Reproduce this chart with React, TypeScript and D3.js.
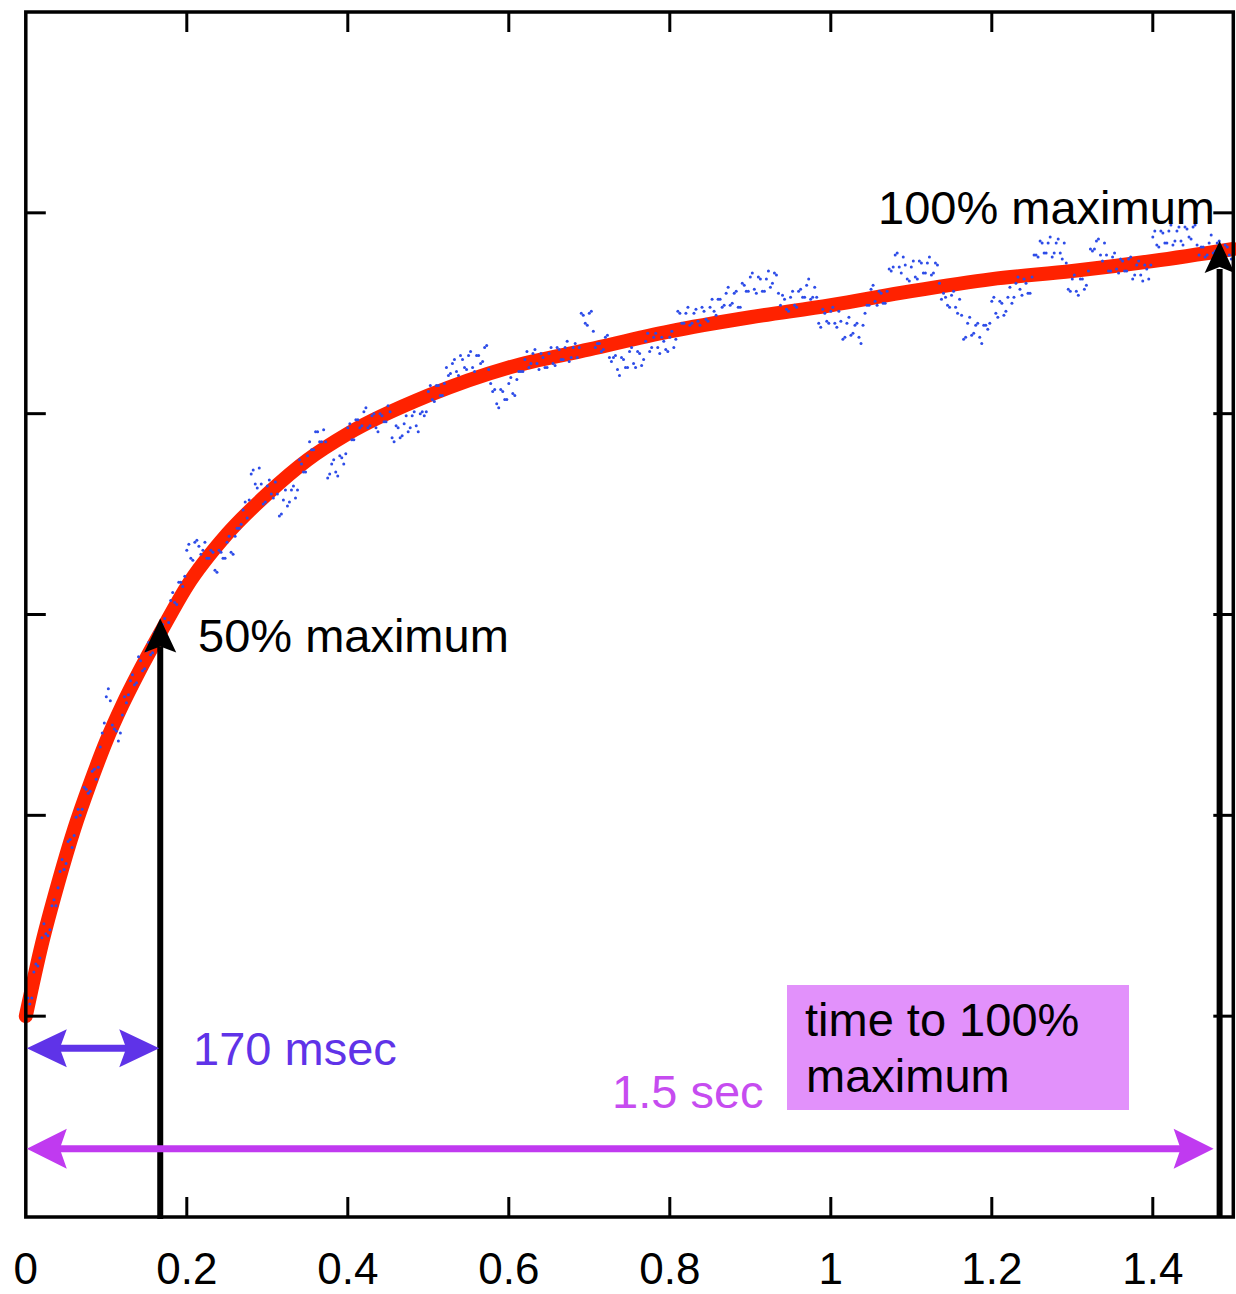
import React from 'react';
import * as d3 from 'd3';

// ---- data ----
const xTickValues = [0, 0.2, 0.4, 0.6, 0.8, 1, 1.2, 1.4];
const xTickLabels = ['0', '0.2', '0.4', '0.6', '0.8', '1', '1.2', '1.4'];
const yTickValues = [1, 2, 3, 4, 5];

// red fitted curve (time in s, response in arbitrary units)
const fitTimes = [0, 0.02, 0.04, 0.06, 0.08, 0.1, 0.12, 0.14, 0.17, 0.2, 0.25, 0.3, 0.35, 0.4, 0.5, 0.6, 0.7, 0.8, 0.9, 1.0, 1.1, 1.2, 1.3, 1.4, 1.5];
const fitValues = [1.0, 1.36, 1.66, 1.93, 2.16, 2.37, 2.55, 2.71, 2.93, 3.14, 3.40, 3.60, 3.77, 3.90, 4.09, 4.23, 4.32, 4.41, 4.48, 4.54, 4.61, 4.67, 4.71, 4.76, 4.82];

// blue raw samples, channel A: one every 5 ms from 0 to 1.5 s
const sampleStep = 0.005;
const blueValuesA = [
  1.01, 1.06, 1.22, 1.25, 1.39, 1.41, 1.43, 1.58, 1.64, 1.78,
  1.76, 1.88, 1.90, 2.03, 2.03, 2.13, 2.12, 2.23, 2.24, 2.41,
  2.59, 2.57, 2.43, 2.37, 2.50, 2.56, 2.67, 2.65, 2.79, 2.72,
  2.82, 2.80, 2.91, 2.85, 2.95, 2.89, 3.07, 3.06, 3.16, 3.14,
  3.32, 3.28, 3.36, 3.34, 3.32, 3.28, 3.32, 3.22, 3.32, 3.28,
  3.36, 3.31, 3.39, 3.43, 3.52, 3.48, 3.70, 3.65, 3.73, 3.55,
  3.64, 3.60, 3.66, 3.49, 3.57, 3.54, 3.62, 3.58, 3.77, 3.71,
  3.79, 3.82, 3.91, 3.86, 3.92, 3.68, 3.75, 3.71, 3.79, 3.75,
  3.93, 3.87, 3.97, 3.93, 4.01, 3.93, 3.99, 3.93, 4.00, 3.96,
  4.04, 3.88, 3.94, 3.88, 3.95, 3.91, 3.99, 3.94, 4.00, 3.99,
  4.11, 4.07, 4.14, 4.09, 4.15, 4.19, 4.25, 4.21, 4.29, 4.23,
  4.29, 4.23, 4.29, 4.25, 4.33, 4.22, 4.11, 4.05, 4.12, 4.07,
  4.15, 4.10, 4.17, 4.21, 4.27, 4.23, 4.30, 4.25, 4.30, 4.23,
  4.30, 4.25, 4.33, 4.27, 4.33, 4.26, 4.33, 4.28, 4.50, 4.45,
  4.50, 4.41, 4.35, 4.31, 4.38, 4.28, 4.28, 4.22, 4.28, 4.23,
  4.31, 4.25, 4.31, 4.24, 4.36, 4.31, 4.38, 4.33, 4.38, 4.32,
  4.38, 4.33, 4.51, 4.45, 4.50, 4.44, 4.50, 4.46, 4.53, 4.47,
  4.53, 4.51, 4.57, 4.53, 4.60, 4.54, 4.60, 4.53, 4.65, 4.61,
  4.68, 4.62, 4.68, 4.61, 4.67, 4.63, 4.70, 4.60, 4.59, 4.52,
  4.58, 4.54, 4.61, 4.58, 4.64, 4.57, 4.63, 4.45, 4.52, 4.46,
  4.51, 4.45, 4.51, 4.37, 4.45, 4.39, 4.44, 4.38, 4.44, 4.54,
  4.62, 4.56, 4.61, 4.55, 4.61, 4.71, 4.79, 4.73, 4.78, 4.67,
  4.73, 4.68, 4.76, 4.70, 4.75, 4.69, 4.75, 4.65, 4.60, 4.54,
  4.59, 4.53, 4.57, 4.37, 4.45, 4.39, 4.44, 4.38, 4.44, 4.42,
  4.56, 4.50, 4.56, 4.49, 4.58, 4.55, 4.65, 4.62, 4.67, 4.60,
  4.68, 4.79, 4.86, 4.80, 4.85, 4.78, 4.85, 4.80, 4.85, 4.62,
  4.67, 4.61, 4.67, 4.62, 4.71, 4.81, 4.86, 4.79, 4.85, 4.71,
  4.78, 4.72, 4.77, 4.71, 4.77, 4.67, 4.74, 4.69, 4.74, 4.67,
  4.88, 4.84, 4.91, 4.85, 4.91, 4.84, 4.91, 4.86, 4.93, 4.88,
  4.93, 4.84, 4.83, 4.78, 4.85, 4.80, 4.85, 4.78, 4.84, 4.79,
  4.83,
];

// blue raw samples, channel B: the in-between samples (2.5 ms offset)
const sampleOffsetB = 0.0025;
const blueValuesB = [
  1.09, 1.09, 1.26, 1.29, 1.46, 1.40, 1.55, 1.55, 1.72, 1.73,
  1.87, 1.84, 1.99, 2.00, 2.14, 2.11, 2.22, 2.18, 2.34, 2.46,
  2.63, 2.45, 2.42, 2.41, 2.59, 2.60, 2.70, 2.66, 2.77, 2.73,
  2.86, 2.81, 2.90, 2.87, 2.98, 2.96, 3.11, 3.05, 3.16, 3.19,
  3.35, 3.27, 3.37, 3.30, 3.36, 3.28, 3.31, 3.21, 3.31, 3.28,
  3.39, 3.30, 3.43, 3.45, 3.56, 3.57, 3.72, 3.63, 3.65, 3.56,
  3.67, 3.58, 3.60, 3.50, 3.62, 3.56, 3.64, 3.62, 3.75, 3.71,
  3.86, 3.82, 3.91, 3.86, 3.86, 3.70, 3.77, 3.69, 3.78, 3.80,
  3.95, 3.87, 3.97, 3.94, 4.03, 3.94, 4.00, 3.91, 3.99, 3.96,
  4.01, 3.86, 3.93, 3.89, 3.99, 3.93, 4.01, 3.91, 4.01, 4.01,
  4.14, 4.06, 4.14, 4.09, 4.23, 4.20, 4.27, 4.19, 4.27, 4.22,
  4.31, 4.21, 4.29, 4.26, 4.34, 4.15, 4.12, 4.03, 4.11, 4.07,
  4.18, 4.09, 4.21, 4.21, 4.31, 4.25, 4.32, 4.22, 4.28, 4.23,
  4.33, 4.24, 4.32, 4.27, 4.36, 4.28, 4.35, 4.33, 4.49, 4.44,
  4.51, 4.33, 4.35, 4.32, 4.39, 4.26, 4.29, 4.19, 4.27, 4.23,
  4.33, 4.23, 4.30, 4.27, 4.40, 4.33, 4.40, 4.30, 4.36, 4.31,
  4.41, 4.37, 4.50, 4.45, 4.53, 4.45, 4.52, 4.44, 4.51, 4.46,
  4.57, 4.49, 4.57, 4.54, 4.63, 4.55, 4.61, 4.53, 4.64, 4.61,
  4.70, 4.60, 4.67, 4.61, 4.71, 4.65, 4.69, 4.54, 4.57, 4.51,
  4.61, 4.53, 4.62, 4.58, 4.67, 4.58, 4.58, 4.43, 4.50, 4.45,
  4.53, 4.43, 4.46, 4.38, 4.48, 4.40, 4.45, 4.35, 4.50, 4.54,
  4.64, 4.54, 4.60, 4.55, 4.72, 4.73, 4.80, 4.70, 4.74, 4.66,
  4.76, 4.67, 4.75, 4.70, 4.78, 4.70, 4.74, 4.57, 4.58, 4.53,
  4.61, 4.50, 4.49, 4.38, 4.48, 4.40, 4.45, 4.35, 4.44, 4.45,
  4.58, 4.48, 4.55, 4.51, 4.63, 4.58, 4.68, 4.59, 4.65, 4.60,
  4.79, 4.78, 4.85, 4.80, 4.88, 4.80, 4.87, 4.77, 4.75, 4.61,
  4.69, 4.59, 4.67, 4.64, 4.82, 4.82, 4.87, 4.76, 4.79, 4.71,
  4.80, 4.70, 4.76, 4.71, 4.78, 4.69, 4.76, 4.66, 4.72, 4.74,
  4.91, 4.83, 4.90, 4.85, 4.94, 4.86, 4.93, 4.84, 4.92, 4.87,
  4.94, 4.79, 4.83, 4.79, 4.89, 4.81, 4.86, 4.75, 4.83, 4.77,
];

// annotation anchors (data units)
const halfTime = 0.167;
const halfValue = 2.98;
const fullTime = 1.483;
const fullValue = 4.86;
const shortSpanLevel = 0.84;
const longSpanLevel = 0.34;

const W = 1236;
const H = 1294;
const FONT = '"Liberation Sans", Arial, Helvetica, sans-serif';

function stealthHead(tipX: number, tipY: number, dx: number, dy: number, len: number, half: number, notch: number) {
  const px = -dy, py = dx;
  const bx = tipX - dx * len, by = tipY - dy * len;
  const nx = tipX - dx * (len - notch), ny = tipY - dy * (len - notch);
  return `M${tipX},${tipY}L${bx + px * half},${by + py * half}L${nx},${ny}L${bx - px * half},${by - py * half}Z`;
}

export default function App() {
  const x = d3.scaleLinear().domain([0, 1.5]).range([25.8, 1233.3]);
  const y = d3.scaleLinear().domain([0, 6]).range([1217, 12]);

  const fitData = fitTimes.map((t, i) => [t, fitValues[i]] as [number, number]);
  const line = d3.line<[number, number]>().x(d => x(d[0])).y(d => y(d[1])).curve(d3.curveMonotoneX);
  const blueData = [
    ...blueValuesA.map((v, i) => ({ t: i * sampleStep, v })),
    ...blueValuesB.map((v, i) => ({ t: sampleOffsetB + i * sampleStep, v })),
  ];

  const left = x(0), right = x(1.5), top = y(6), bottom = y(0);
  const tickLen = 20;

  const hx = x(halfTime), fx = x(fullTime);
  const sY = y(shortSpanLevel), lY = y(longSpanLevel);

  const blueCol = '#5f33e8';
  const magCol = '#c03af0';

  return (
    <svg width={W} height={H} style={{ position: 'absolute', left: 0, top: 0, background: '#fff' }} fontFamily={FONT}>
      <rect x={0} y={0} width={W} height={H} fill="#fff" />
      {/* fitted curve */}
      <path d={line(fitData) || ''} fill="none" stroke="#ff2200" strokeWidth={14} strokeLinecap="round" />
      {/* raw samples */}
      <g fill="#2d4ce8">
        {blueData.map((d, i) => (
          <circle key={i} cx={x(d.t)} cy={y(d.v)} r={1.5} />
        ))}
      </g>

      {/* frame */}
      <rect x={left} y={top} width={right - left} height={bottom - top} fill="none" stroke="#000" strokeWidth={3.5} />
      {/* ticks */}
      <g stroke="#000" strokeWidth={3}>
        {xTickValues.filter(v => v > 0).map(v => (
          <g key={'xt' + v}>
            <line x1={x(v)} x2={x(v)} y1={bottom} y2={bottom - tickLen} />
            <line x1={x(v)} x2={x(v)} y1={top} y2={top + tickLen} />
          </g>
        ))}
        {yTickValues.map(v => (
          <g key={'yt' + v}>
            <line x1={left} x2={left + tickLen} y1={y(v)} y2={y(v)} />
            <line x1={right} x2={right - tickLen} y1={y(v)} y2={y(v)} />
          </g>
        ))}
      </g>
      {/* tick labels */}
      <g fontSize={44} textAnchor="middle" fill="#000">
        {xTickValues.map((v, i) => (
          <text key={'xl' + v} x={x(v)} y={1284}>{xTickLabels[i]}</text>
        ))}
      </g>

      {/* vertical black arrows */}
      <line x1={hx} x2={hx} y1={bottom + 2} y2={y(halfValue) + 28} stroke="#000" strokeWidth={6} />
      <path d={stealthHead(hx, y(halfValue), 0, -1, 34, 16, 6)} fill="#000" />
      <line x1={fx} x2={fx} y1={bottom} y2={y(fullValue) + 28} stroke="#000" strokeWidth={6} />
      <path d={stealthHead(fx, y(fullValue), 0, -1, 32, 15, 6)} fill="#000" />

      {/* short span arrow (170 msec) */}
      <line x1={left + 30} x2={hx - 30} y1={sY} y2={sY} stroke={blueCol} strokeWidth={7} />
      <path d={stealthHead(left + 1, sY, -1, 0, 40, 19, 7)} fill={blueCol} />
      <path d={stealthHead(hx - 1, sY, 1, 0, 40, 19, 7)} fill={blueCol} />

      {/* long span arrow (1.5 sec) */}
      <line x1={left + 30} x2={fx - 36} y1={lY} y2={lY} stroke={magCol} strokeWidth={7} />
      <path d={stealthHead(left + 1, lY, -1, 0, 40, 20, 7)} fill={magCol} />
      <path d={stealthHead(fx - 6, lY, 1, 0, 40, 20, 7)} fill={magCol} />

      {/* annotation texts */}
      <g fontSize={47}>
        <text x={198} y={652} fill="#000">50% maximum</text>
        <text x={878} y={224} fill="#000">100% maximum</text>
        <text x={193} y={1065} fill={blueCol}>170 msec</text>
        <text x={612} y={1108} fill="#c64cf0">1.5 sec</text>
        <rect x={787} y={985} width={342} height={125} fill="#e291fb" />
        <text x={805} y={1036} fill="#000">time to 100%</text>
        <text x={806} y={1092} fill="#000">maximum</text>
      </g>
    </svg>
  );
}
